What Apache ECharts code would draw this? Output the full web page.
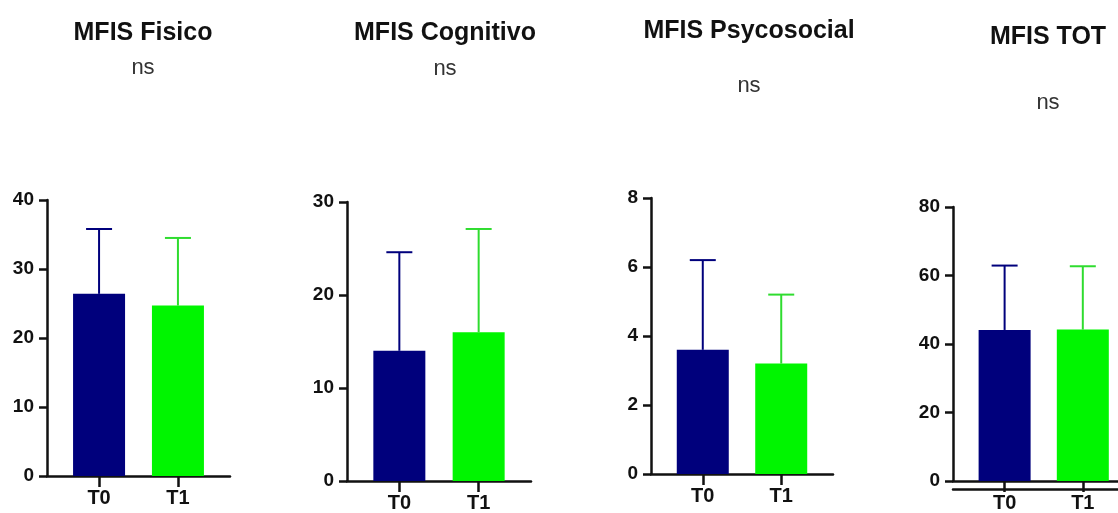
<!DOCTYPE html>
<html>
<head>
<meta charset="utf-8">
<script src="https://cdn.jsdelivr.net/npm/echarts@6/dist/echarts.min.js"></script>
<style>
  html, body { margin: 0; padding: 0; background: #fff; }
  #chart { width: 1118px; height: 513px; }
</style>
</head>
<body>
<div id="chart"></div>
<script>
// data
const categories = ["T0", "T1"];
const panelTitles = ["MFIS Fisico", "MFIS Cognitivo", "MFIS Psycosocial", "MFIS TOT"];
const sigLabels = ["ns", "ns", "ns", "ns"];
const fisicoMean = [26.4, 24.7];
const fisicoSd = [9.4, 9.8];
const cognitivoMean = [14.0, 16.0];
const cognitivoSd = [10.6, 11.1];
const psycosocialMean = [3.6, 3.2];
const psycosocialSd = [2.6, 2.0];
const totMean = [44.1, 44.2];
const totSd = [18.8, 18.5];
const yMax = [40, 30, 8, 80];
const yStep = [10, 10, 2, 20];

const means = [fisicoMean, cognitivoMean, psycosocialMean, totMean];
const sds = [fisicoSd, cognitivoSd, psycosocialSd, totSd];

// layout (last panel is cut by the right edge)
const grids = [
  { left: 47, top: 200, width: 183, height: 276 },
  { left: 347, top: 202, width: 184, height: 279 },
  { left: 651, top: 198, width: 182, height: 276 },
  { left: 953, top: 207, width: 165, height: 275 },
];
const xMin = 0.34;
const xMax = [2.66, 2.66, 2.66, 2.45];
const titleX = [138, 440, 744, 1043];
const titleTop = [16, 16, 14, 20];
const sigTop = [52, 53, 70, 87];
const barColors = ["#00007c", "#00f500"];
const whiskerColors = ["#00007c", "#2fdc2f"];
const font = "'Liberation Sans', Arial, sans-serif";

const chart = echarts.init(document.getElementById("chart"));

const title = [];
const xAxis = [];
const yAxis = [];
const series = [];

panelTitles.forEach((t, i) => {
  title.push({
    text: t, left: titleX[i], top: titleTop[i], textAlign: "center",
    textStyle: { fontFamily: font, fontSize: 25, fontWeight: "bold", color: "#111" },
  });
  title.push({
    text: sigLabels[i], left: titleX[i], top: sigTop[i], textAlign: "center",
    textStyle: { fontFamily: font, fontSize: 22, fontWeight: "normal", color: "#333" },
  });
  xAxis.push({
    type: "value", gridIndex: i, min: xMin, max: xMax[i],
    axisLine: { show: true, lineStyle: { color: "#111", width: 2.5 } },
    axisTick: { show: true, customValues: [1, 2], length: 11, lineStyle: { color: "#111", width: 2.5 } },
    axisLabel: {
      customValues: [1, 2], margin: 12,
      formatter: (v) => categories[Math.round(v) - 1],
      fontFamily: font, fontSize: 20, fontWeight: "bold", color: "#111",
    },
    splitLine: { show: false },
  });
  yAxis.push({
    type: "value", gridIndex: i, min: 0, max: yMax[i], interval: yStep[i],
    axisLine: { show: true, lineStyle: { color: "#111", width: 2.5 } },
    axisTick: { show: true, length: 8, lineStyle: { color: "#111", width: 2.5 } },
    axisLabel: { margin: 13, fontFamily: font, fontSize: 19, fontWeight: "bold", color: "#111" },
    splitLine: { show: false },
  });
  series.push({
    type: "bar", xAxisIndex: i, yAxisIndex: i, barWidth: 52,
    data: categories.map((c, k) => ({
      value: [k + 1, means[i][k]],
      itemStyle: { color: barColors[k] },
    })),
  });
  series.push({
    type: "custom", xAxisIndex: i, yAxisIndex: i, z: 3,
    data: categories.map((c, k) => [k + 1, means[i][k], means[i][k] + sds[i][k], k]),
    renderItem: (params, api) => {
      const x = api.value(0);
      const base = api.coord([x, api.value(1)]);
      const top = api.coord([x, api.value(2)]);
      const stroke = whiskerColors[api.value(3)];
      return {
        type: "group",
        children: [
          { type: "line", shape: { x1: base[0], y1: base[1], x2: top[0], y2: top[1] }, style: { stroke, lineWidth: 2 } },
          { type: "line", shape: { x1: top[0] - 13, y1: top[1], x2: top[0] + 13, y2: top[1] }, style: { stroke, lineWidth: 2 } },
        ],
      };
    },
  });
});

// the doubled baseline under the last panel
xAxis.push({
  type: "value", gridIndex: 3, min: xMin, max: xMax[3], position: "bottom", offset: 8,
  axisLine: { show: true, onZero: false, lineStyle: { color: "#111", width: 2.5 } },
  axisTick: { show: false }, axisLabel: { show: false }, splitLine: { show: false },
});

chart.setOption({
  backgroundColor: "#fff",
  animation: false,
  title,
  grid: grids.map((g) => ({ ...g, containLabel: false })),
  xAxis,
  yAxis,
  series,
});
</script>
</body>
</html>
